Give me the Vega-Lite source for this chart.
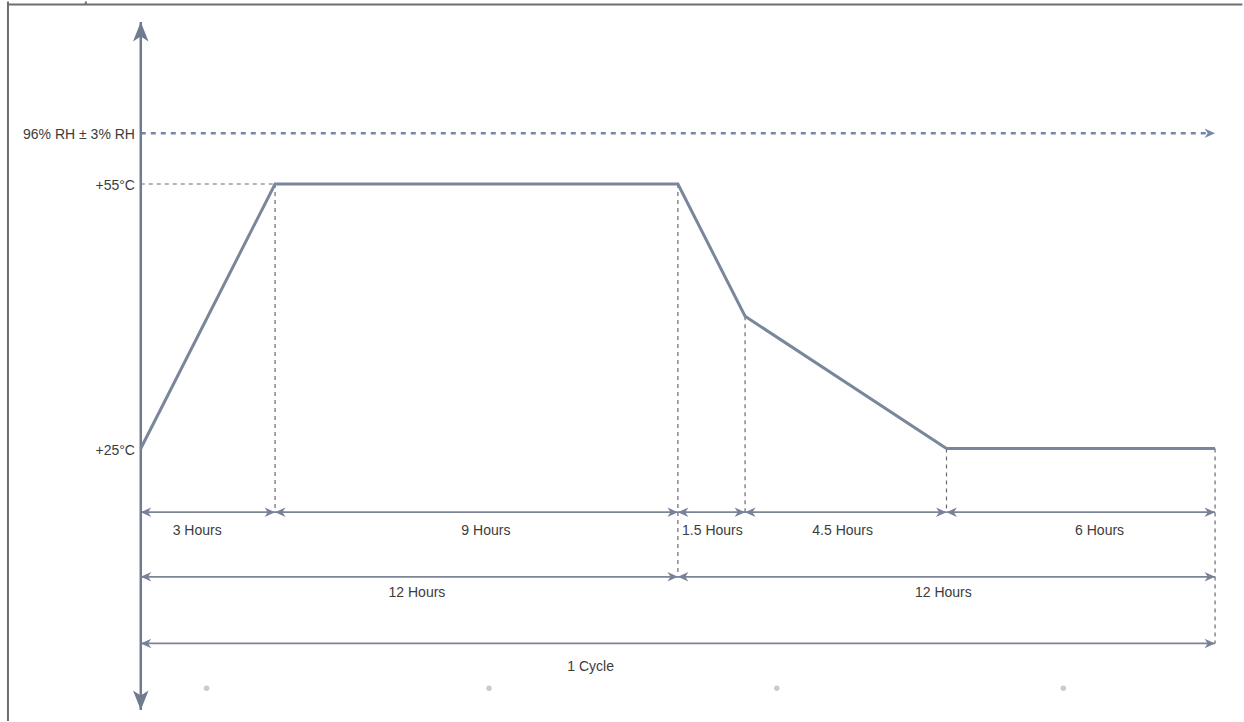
{
  "$schema": "https://vega.github.io/schema/vega-lite/v6.json",
  "autosize": {"type": "fit", "contains": "padding"},
  "padding": 0,
  "width": 1244,
  "height": 722,
  "background": "#ffffff",
  "config": {"view": {"stroke": null}},
  "datasets": {
    "frame": [
      {"x1": -2.967, "x2": 24.61, "y1": 75.35, "y2": 75.35},
      {"x1": -2.967, "x2": -2.967, "y1": 75.7, "y2": -5.9},
      {"x1": -1.227, "x2": -1.227, "y1": 75.7, "y2": 75.35}
    ],
    "profile": [
      {"hours": 0, "temp": 25},
      {"hours": 3, "temp": 55},
      {"hours": 12, "temp": 55},
      {"hours": 13.5, "temp": 40},
      {"hours": 18, "temp": 25},
      {"hours": 24, "temp": 25}
    ],
    "guides": [
      {"x1": 0, "x2": 3, "y1": 55, "y2": 55},
      {"x1": 3, "x2": 3, "y1": 55, "y2": 17.78},
      {"x1": 12, "x2": 12, "y1": 55, "y2": 10.45},
      {"x1": 13.5, "x2": 13.5, "y1": 40, "y2": 17.78},
      {"x1": 18, "x2": 18, "y1": 25, "y2": 17.78},
      {"x1": 24, "x2": 24, "y1": 25, "y2": 2.89}
    ],
    "dims": [
      {"start": 0, "end": 3, "level": 17.78},
      {"start": 3, "end": 12, "level": 17.78},
      {"start": 12, "end": 13.5, "level": 17.78},
      {"start": 13.5, "end": 18, "level": 17.78},
      {"start": 18, "end": 24, "level": 17.78},
      {"start": 0, "end": 12, "level": 10.45},
      {"start": 12, "end": 24, "level": 10.45},
      {"start": 0, "end": 24, "level": 2.89}
    ],
    "rh": [{"x1": 0, "x2": 23.85, "y": 60.75, "tip": 24.0}],
    "axis": [{"x": 0, "top": 73.38, "bottom": -4.66}],
    "leftLabels": [
      {"label": "96% RH ± 3% RH", "y": 60.75},
      {"label": "+55°C", "y": 55},
      {"label": "+25°C", "y": 25}
    ],
    "dimLabels": [
      {"label": "3 Hours", "x": 1.26, "y": 15.75},
      {"label": "9 Hours", "x": 7.71, "y": 15.75},
      {"label": "1.5 Hours", "x": 12.77, "y": 15.75},
      {"label": "4.5 Hours", "x": 15.68, "y": 15.75},
      {"label": "6 Hours", "x": 21.42, "y": 15.75},
      {"label": "12 Hours", "x": 6.17, "y": 8.76},
      {"label": "12 Hours", "x": 17.93, "y": 8.76},
      {"label": "1 Cycle", "x": 10.05, "y": 0.3}
    ],
    "specks": [
      {"x": 1.47, "y": -2.18},
      {"x": 7.78, "y": -2.18},
      {"x": 14.21, "y": -2.18},
      {"x": 20.61, "y": -2.18}
    ]
  },
  "layer": [
    {
      "data": {"name": "frame"},
      "mark": {"type": "rule", "color": "#6e6e6e", "strokeWidth": 2},
      "encoding": {
        "x": {"field": "x1", "type": "quantitative", "scale": {"domain": [-3.145, 24.602], "nice": false, "zero": false}, "axis": null},
        "x2": {"field": "x2"},
        "y": {"field": "y1", "type": "quantitative", "scale": {"domain": [-5.79, 75.64], "nice": false, "zero": false}, "axis": null},
        "y2": {"field": "y2"}
      }
    },
    {
      "data": {"name": "guides"},
      "mark": {"type": "rule", "color": "#6a6a6a", "strokeWidth": 1.2, "strokeDash": [4, 4]},
      "encoding": {
        "x": {"field": "x1", "type": "quantitative"},
        "x2": {"field": "x2"},
        "y": {"field": "y1", "type": "quantitative"},
        "y2": {"field": "y2"}
      }
    },
    {
      "data": {"name": "dims"},
      "mark": {"type": "rule", "color": "#7c8596", "strokeWidth": 1.8},
      "encoding": {
        "x": {"field": "start", "type": "quantitative"},
        "x2": {"field": "end"},
        "y": {"field": "level", "type": "quantitative"}
      }
    },
    {
      "data": {"name": "dims"},
      "mark": {"type": "point", "shape": "M0,0 L2,-0.9 L1.4,0 L2,0.9 Z", "filled": true, "size": 110, "color": "#76829a", "opacity": 1},
      "encoding": {
        "x": {"field": "start", "type": "quantitative"},
        "y": {"field": "level", "type": "quantitative"}
      }
    },
    {
      "data": {"name": "dims"},
      "mark": {"type": "point", "shape": "M0,0 L-2,-0.9 L-1.4,0 L-2,0.9 Z", "filled": true, "size": 110, "color": "#76829a", "opacity": 1},
      "encoding": {
        "x": {"field": "end", "type": "quantitative"},
        "y": {"field": "level", "type": "quantitative"}
      }
    },
    {
      "data": {"name": "rh"},
      "mark": {"type": "rule", "color": "#7787a6", "strokeWidth": 2.5, "strokeDash": [5, 5]},
      "encoding": {
        "x": {"field": "x1", "type": "quantitative"},
        "x2": {"field": "x2"},
        "y": {"field": "y", "type": "quantitative"}
      }
    },
    {
      "data": {"name": "rh"},
      "mark": {"type": "point", "shape": "M0,0 L-2,-0.9 L-1.4,0 L-2,0.9 Z", "filled": true, "size": 110, "color": "#7787a6", "opacity": 1},
      "encoding": {
        "x": {"field": "tip", "type": "quantitative"},
        "y": {"field": "y", "type": "quantitative"}
      }
    },
    {
      "data": {"name": "axis"},
      "mark": {"type": "rule", "color": "#6f7b8e", "strokeWidth": 2.5},
      "encoding": {
        "x": {"field": "x", "type": "quantitative"},
        "y": {"field": "top", "type": "quantitative"},
        "y2": {"field": "bottom"}
      }
    },
    {
      "data": {"name": "axis"},
      "mark": {"type": "point", "shape": "M0,0 L-0.8,2 L0,1.5 L0.8,2 Z", "filled": true, "size": 380, "color": "#6f7b8e", "opacity": 1},
      "encoding": {
        "x": {"field": "x", "type": "quantitative"},
        "y": {"field": "top", "type": "quantitative"}
      }
    },
    {
      "data": {"name": "axis"},
      "mark": {"type": "point", "shape": "M0,0 L-0.8,-2 L0,-1.5 L0.8,-2 Z", "filled": true, "size": 380, "color": "#6f7b8e", "opacity": 1},
      "encoding": {
        "x": {"field": "x", "type": "quantitative"},
        "y": {"field": "bottom", "type": "quantitative"}
      }
    },
    {
      "data": {"name": "profile"},
      "mark": {"type": "line", "color": "#7a869b", "strokeWidth": 3, "strokeJoin": "miter"},
      "encoding": {
        "x": {"field": "hours", "type": "quantitative"},
        "y": {"field": "temp", "type": "quantitative"}
      }
    },
    {
      "data": {"name": "specks"},
      "mark": {"type": "point", "shape": "circle", "filled": true, "size": 30, "color": "#a8a8a8", "opacity": 0.6},
      "encoding": {
        "x": {"field": "x", "type": "quantitative"},
        "y": {"field": "y", "type": "quantitative"}
      }
    },
    {
      "data": {"name": "leftLabels"},
      "mark": {"type": "text", "align": "right", "baseline": "middle", "dy": 2, "font": "Liberation Sans", "fontSize": 14, "color": "#3c3c3c"},
      "encoding": {
        "x": {"datum": -0.13, "type": "quantitative"},
        "y": {"field": "y", "type": "quantitative"},
        "text": {"field": "label"}
      }
    },
    {
      "data": {"name": "dimLabels"},
      "mark": {"type": "text", "align": "center", "baseline": "middle", "dy": 1, "font": "Liberation Sans", "fontSize": 14, "color": "#3c3c3c"},
      "encoding": {
        "x": {"field": "x", "type": "quantitative"},
        "y": {"field": "y", "type": "quantitative"},
        "text": {"field": "label"}
      }
    }
  ]
}
